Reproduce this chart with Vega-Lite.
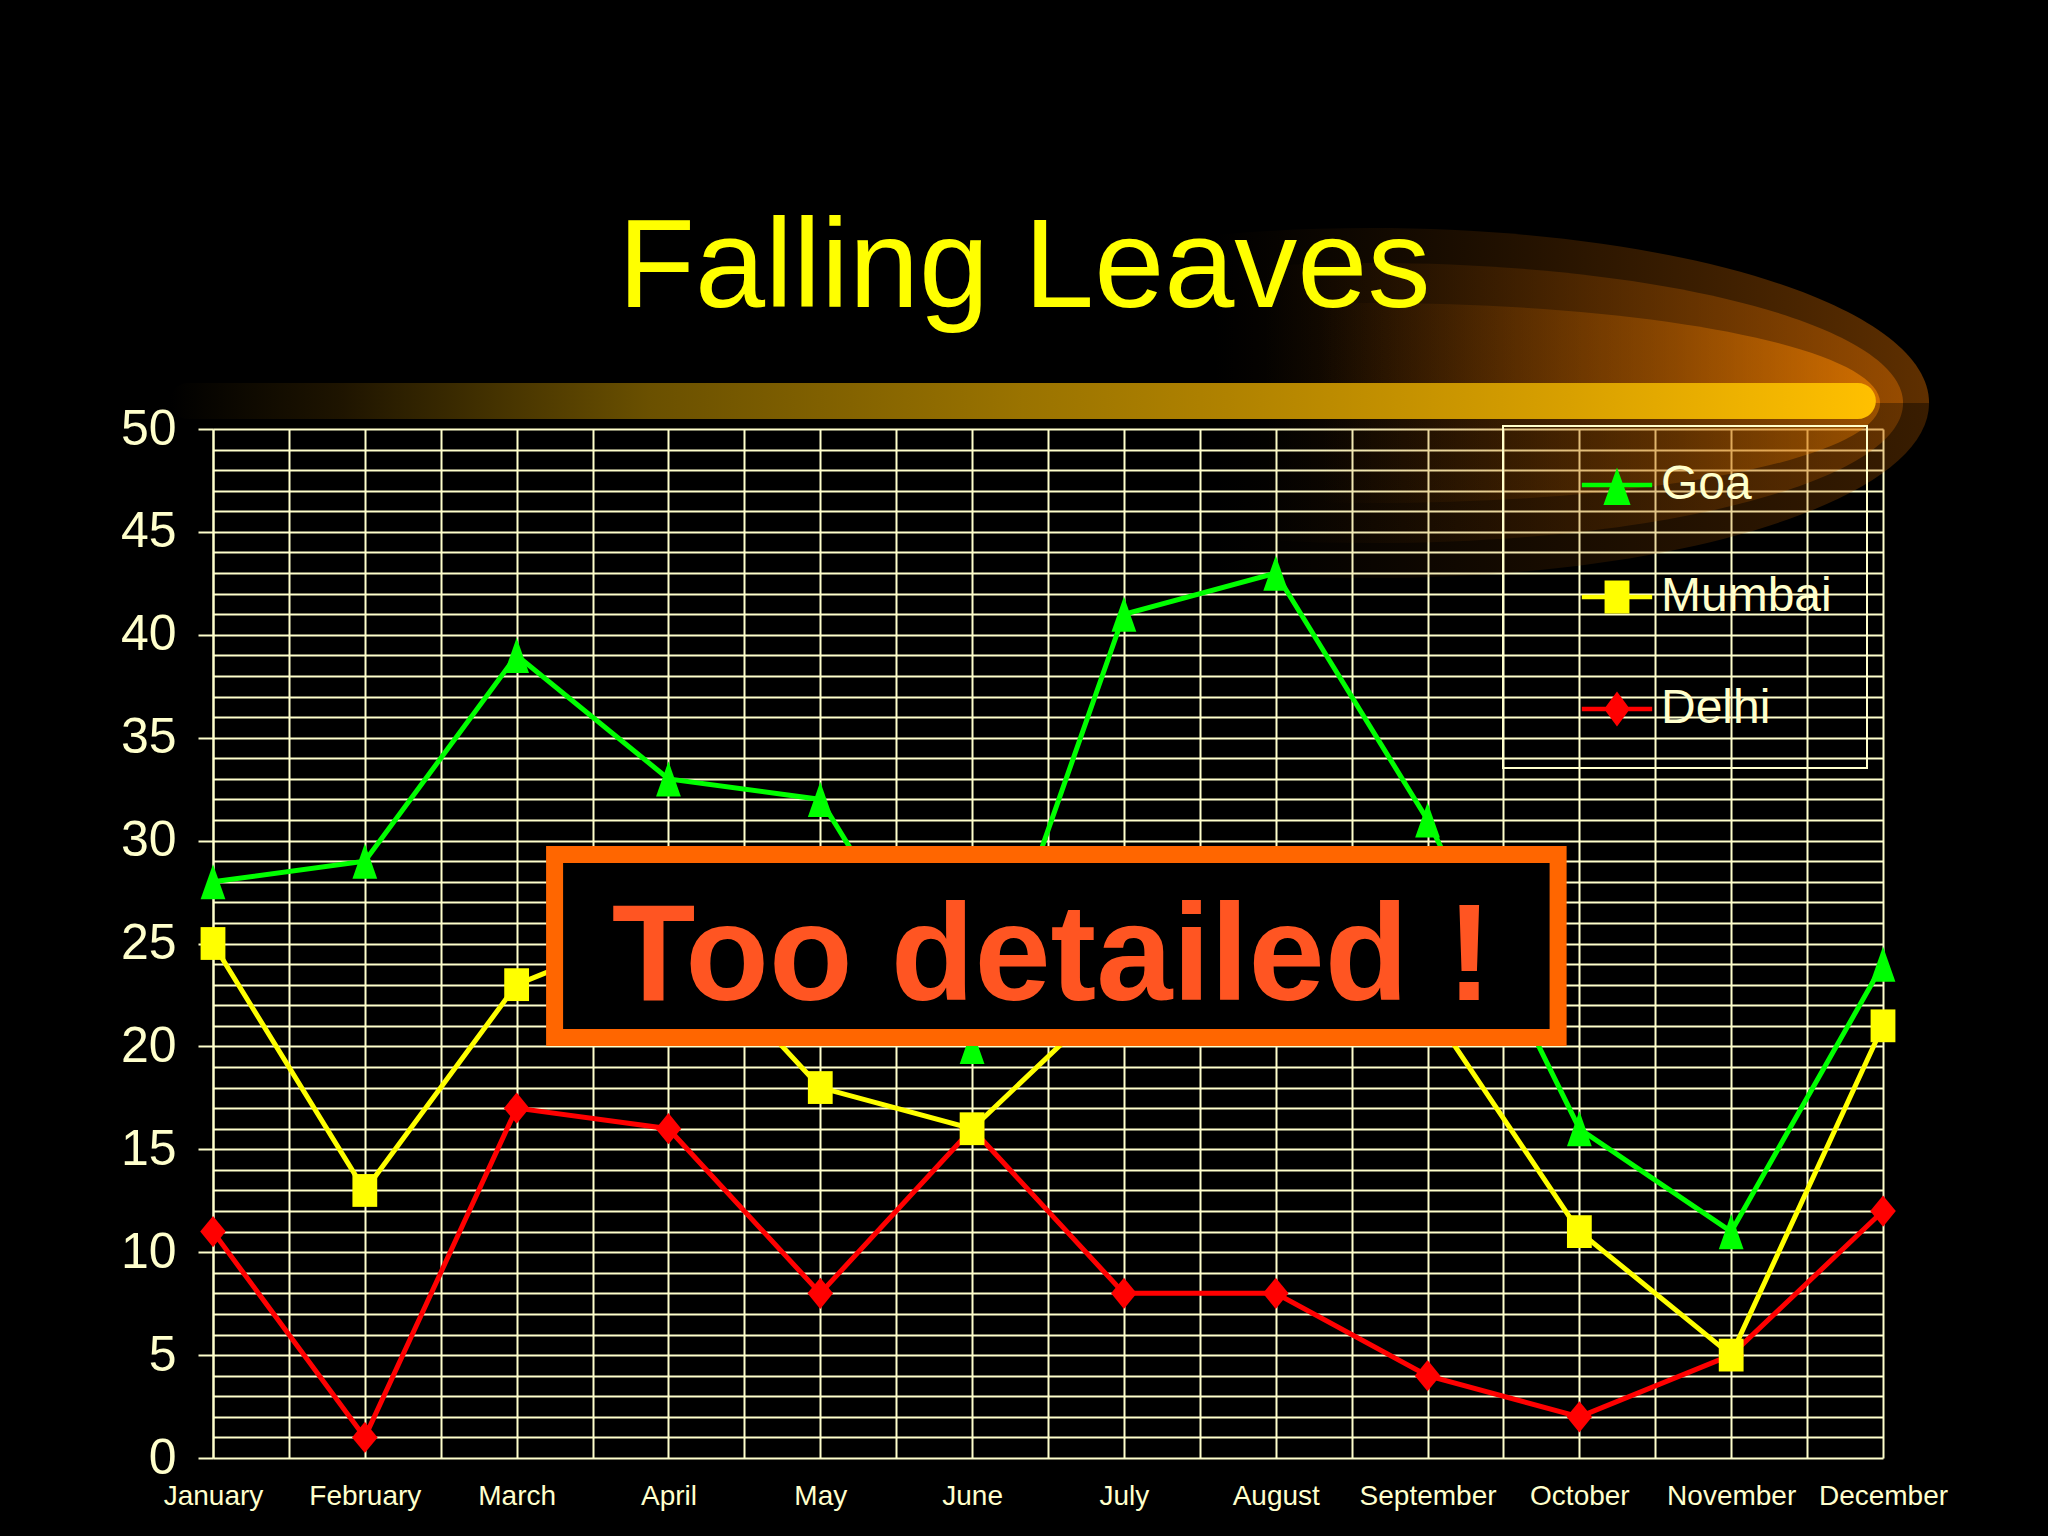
{
  "$schema": "https://vega.github.io/schema/vega-lite/v6.json",
  "width": 1670,
  "height": 1029,
  "autosize": {"type": "none"},
  "padding": {"left": 213, "top": 429, "right": 165, "bottom": 78},
  "background": "#000000",
  "config": {"view": {"stroke": null}, "legend": {"strokeWidth": 2}},
  "resolve": {"scale": {"x": "independent"}, "axis": {"x": "independent"}},
  "layer": [
    {
      "data": {"values": [{"part": "glow"}]},
      "encoding": {
        "x": {"datum": 7.628, "type": "quantitative", "title": null, "scale": {"domain": [0, 11], "nice": false, "zero": false},
          "axis": {"orient": "bottom", "values": [0,0.5,1,1.5,2,2.5,3,3.5,4,4.5,5,5.5,6,6.5,7,7.5,8,8.5,9,9.5,10,10.5,11],
            "grid": true, "gridColor": "#FFFFCC", "gridWidth": 2, "gridOpacity": 1, "labels": false, "ticks": false, "domain": false, "title": null}},
        "y": {"datum": 51.26, "type": "quantitative", "title": null, "scale": {"domain": [0, 50], "nice": false},
          "axis": {"values": [0,1,2,3,4,5,6,7,8,9,10,11,12,13,14,15,16,17,18,19,20,21,22,23,24,25,26,27,28,29,30,31,32,33,34,35,36,37,38,39,40,41,42,43,44,45,46,47,48,49,50],
            "grid": true, "gridColor": "#FFFFCC", "gridWidth": 2, "gridOpacity": 1,
            "domain": true, "domainColor": "#FFFFCC", "domainWidth": 2,
            "tickColor": "#FFFFCC", "tickWidth": 2, "tickSize": 15,
            "tickOpacity": {"condition": {"test": "datum.value % 5 === 0", "value": 1}, "value": 0},
            "labelExpr": "datum.value % 5 === 0 ? datum.label : ''",
            "labelOverlap": false, "labelFlush": false, "labelBound": false,
            "labelFont": "Liberation Sans, Arial, sans-serif", "labelFontSize": 50, "labelColor": "#FFFFCC", "labelPadding": 22, "title": null}}
      },
      "layer": [
        {
          "mark": {"type": "point", "filled": true, "size": 40000, "strokeWidth": 0, "opacity": 1,
            "shape": "M-5.58,0C-5.58,-0.9665,-3.082,-1.75,0,-1.75C3.082,-1.75,5.58,-0.9665,5.58,0Z",
            "fill": {"gradient": "linear", "x1": 0, "y1": 0, "x2": 1, "y2": 0, "stops": [
              {"offset": 0, "color": "rgba(0,0,0,0)"}, {"offset": 0.36, "color": "rgba(120,60,0,0)"},
              {"offset": 0.7, "color": "rgba(150,75,0,0.3)"}, {"offset": 1, "color": "rgba(190,95,0,0.5)"}]}}
        },
        {
          "mark": {"type": "point", "filled": true, "size": 40000, "strokeWidth": 0, "opacity": 1,
            "shape": "M-5.58,0C-5.58,0.9665,-3.082,1.75,0,1.75C3.082,1.75,5.58,0.9665,5.58,0Z",
            "fill": {"gradient": "linear", "x1": 0, "y1": 0, "x2": 1, "y2": 0, "stops": [
              {"offset": 0, "color": "rgba(0,0,0,0)"}, {"offset": 0.36, "color": "rgba(120,60,0,0)"},
              {"offset": 0.7, "color": "rgba(150,75,0,0.18)"}, {"offset": 1, "color": "rgba(190,95,0,0.3)"}]}}
        },
        {
          "mark": {"type": "point", "filled": true, "size": 40000, "strokeWidth": 0, "opacity": 1,
            "shape": "M-5.32,0C-5.32,-0.7732,-2.938,-1.4,0,-1.4C2.938,-1.4,5.32,-0.7732,5.32,0Z",
            "fill": {"gradient": "linear", "x1": 0, "y1": 0, "x2": 1, "y2": 0, "stops": [
              {"offset": 0, "color": "rgba(0,0,0,0)"}, {"offset": 0.4, "color": "rgba(150,75,0,0)"},
              {"offset": 0.75, "color": "rgba(180,90,0,0.3)"}, {"offset": 1, "color": "rgba(210,105,0,0.5)"}]}}
        },
        {
          "mark": {"type": "point", "filled": true, "size": 40000, "strokeWidth": 0, "opacity": 1,
            "shape": "M-5.32,0C-5.32,0.7732,-2.938,1.4,0,1.4C2.938,1.4,5.32,0.7732,5.32,0Z",
            "fill": {"gradient": "linear", "x1": 0, "y1": 0, "x2": 1, "y2": 0, "stops": [
              {"offset": 0, "color": "rgba(0,0,0,0)"}, {"offset": 0.4, "color": "rgba(150,75,0,0)"},
              {"offset": 0.75, "color": "rgba(180,90,0,0.18)"}, {"offset": 1, "color": "rgba(210,105,0,0.3)"}]}}
        },
        {
          "mark": {"type": "point", "filled": true, "size": 40000, "strokeWidth": 0, "opacity": 1,
            "shape": "M-5.09,0C-5.09,-0.5523,-2.811,-1,0,-1C2.811,-1,5.09,-0.5523,5.09,0Z",
            "fill": {"gradient": "linear", "x1": 0, "y1": 0, "x2": 1, "y2": 0, "stops": [
              {"offset": 0, "color": "rgba(0,0,0,0)"}, {"offset": 0.45, "color": "rgba(180,90,0,0)"},
              {"offset": 0.8, "color": "rgba(220,115,0,0.35)"}, {"offset": 1, "color": "rgba(240,130,0,0.65)"}]}}
        },
        {
          "mark": {"type": "point", "filled": true, "size": 40000, "strokeWidth": 0, "opacity": 1,
            "shape": "M-5.09,0C-5.09,0.5523,-2.811,1,0,1C2.811,1,5.09,0.5523,5.09,0Z",
            "fill": {"gradient": "linear", "x1": 0, "y1": 0, "x2": 1, "y2": 0, "stops": [
              {"offset": 0, "color": "rgba(0,0,0,0)"}, {"offset": 0.45, "color": "rgba(180,90,0,0)"},
              {"offset": 0.8, "color": "rgba(220,115,0,0.2)"}, {"offset": 1, "color": "rgba(240,130,0,0.4)"}]}}
        },
        {
          "mark": {"type": "rect", "cornerRadius": 18,
            "fill": {"gradient": "linear", "x1": 0, "y1": 0, "x2": 1, "y2": 0, "stops": [
              {"offset": 0, "color": "#000000"}, {"offset": 0.1, "color": "#1e1400"},
              {"offset": 0.28, "color": "#6a5000"}, {"offset": 0.5, "color": "#9a7300"},
              {"offset": 0.62, "color": "#b08200"}, {"offset": 0.82, "color": "#d8a000"},
              {"offset": 1, "color": "#ffc000"}]}},
          "encoding": {
            "x": {"datum": -0.283, "type": "quantitative", "title": null, "scale": {"domain": [0, 11], "nice": false, "zero": false},
              "axis": {"orient": "bottom", "values": [0,0.5,1,1.5,2,2.5,3,3.5,4,4.5,5,5.5,6,6.5,7,7.5,8,8.5,9,9.5,10,10.5,11],
                "grid": true, "gridColor": "#FFFFCC", "gridWidth": 2, "gridOpacity": 1, "labels": false, "ticks": false, "domain": false, "title": null}},
            "x2": {"datum": 10.953},
            "y": {"datum": 52.24, "type": "quantitative", "title": null, "scale": {"domain": [0, 50], "nice": false},
              "axis": {"values": [0,1,2,3,4,5,6,7,8,9,10,11,12,13,14,15,16,17,18,19,20,21,22,23,24,25,26,27,28,29,30,31,32,33,34,35,36,37,38,39,40,41,42,43,44,45,46,47,48,49,50],
                "grid": true, "gridColor": "#FFFFCC", "gridWidth": 2, "gridOpacity": 1,
                "domain": true, "domainColor": "#FFFFCC", "domainWidth": 2,
                "tickColor": "#FFFFCC", "tickWidth": 2, "tickSize": 15,
                "tickOpacity": {"condition": {"test": "datum.value % 5 === 0", "value": 1}, "value": 0},
                "labelExpr": "datum.value % 5 === 0 ? datum.label : ''",
                "labelOverlap": false, "labelFlush": false, "labelBound": false,
                "labelFont": "Liberation Sans, Arial, sans-serif", "labelFontSize": 50, "labelColor": "#FFFFCC", "labelPadding": 22, "title": null}},
            "y2": {"datum": 50.49}
          }
        }
      ]
    },
    {
      "data": {"values": [
        {"month": "January", "city": "Delhi", "value": 11},
        {"month": "February", "city": "Delhi", "value": 1},
        {"month": "March", "city": "Delhi", "value": 17},
        {"month": "April", "city": "Delhi", "value": 16},
        {"month": "May", "city": "Delhi", "value": 8},
        {"month": "June", "city": "Delhi", "value": 16},
        {"month": "July", "city": "Delhi", "value": 8},
        {"month": "August", "city": "Delhi", "value": 8},
        {"month": "September", "city": "Delhi", "value": 4},
        {"month": "October", "city": "Delhi", "value": 2},
        {"month": "November", "city": "Delhi", "value": 5},
        {"month": "December", "city": "Delhi", "value": 12},
        {"month": "January", "city": "Mumbai", "value": 25},
        {"month": "February", "city": "Mumbai", "value": 13},
        {"month": "March", "city": "Mumbai", "value": 23},
        {"month": "April", "city": "Mumbai", "value": 26},
        {"month": "May", "city": "Mumbai", "value": 18},
        {"month": "June", "city": "Mumbai", "value": 16},
        {"month": "July", "city": "Mumbai", "value": 23},
        {"month": "August", "city": "Mumbai", "value": 25},
        {"month": "September", "city": "Mumbai", "value": 22},
        {"month": "October", "city": "Mumbai", "value": 11},
        {"month": "November", "city": "Mumbai", "value": 5},
        {"month": "December", "city": "Mumbai", "value": 21},
        {"month": "January", "city": "Goa", "value": 28},
        {"month": "February", "city": "Goa", "value": 29},
        {"month": "March", "city": "Goa", "value": 39},
        {"month": "April", "city": "Goa", "value": 33},
        {"month": "May", "city": "Goa", "value": 32},
        {"month": "June", "city": "Goa", "value": 20},
        {"month": "July", "city": "Goa", "value": 41},
        {"month": "August", "city": "Goa", "value": 43},
        {"month": "September", "city": "Goa", "value": 31},
        {"month": "October", "city": "Goa", "value": 16},
        {"month": "November", "city": "Goa", "value": 11},
        {"month": "December", "city": "Goa", "value": 24}
      ]},
      "encoding": {
        "x": {"field": "month", "type": "ordinal", "title": null,
          "scale": {"type": "point", "padding": 0, "domain": ["January","February","March","April","May","June","July","August","September","October","November","December"]},
          "axis": {"orient": "bottom", "grid": false, "ticks": false, "domain": false, "labelAngle": 0, "labelOverlap": false,
            "labelFont": "Liberation Sans, Arial, sans-serif", "labelFontSize": 28, "labelColor": "#FFFFCC", "labelPadding": 24, "title": null}},
        "y": {"field": "value", "type": "quantitative", "title": null, "scale": {"domain": [0, 50], "nice": false},
          "axis": {"values": [0,1,2,3,4,5,6,7,8,9,10,11,12,13,14,15,16,17,18,19,20,21,22,23,24,25,26,27,28,29,30,31,32,33,34,35,36,37,38,39,40,41,42,43,44,45,46,47,48,49,50],
            "grid": true, "gridColor": "#FFFFCC", "gridWidth": 2, "gridOpacity": 1,
            "domain": true, "domainColor": "#FFFFCC", "domainWidth": 2,
            "tickColor": "#FFFFCC", "tickWidth": 2, "tickSize": 15,
            "tickOpacity": {"condition": {"test": "datum.value % 5 === 0", "value": 1}, "value": 0},
            "labelExpr": "datum.value % 5 === 0 ? datum.label : ''",
            "labelOverlap": false, "labelFlush": false, "labelBound": false,
            "labelFont": "Liberation Sans, Arial, sans-serif", "labelFontSize": 50, "labelColor": "#FFFFCC", "labelPadding": 22, "title": null}}
      },
      "layer": [
        {
          "mark": {"type": "line", "strokeWidth": 5},
          "encoding": {
            "color": {"field": "city", "type": "nominal",
              "scale": {"domain": ["Goa", "Mumbai", "Delhi"], "range": ["#00FF00", "#FFFF00", "#FF0000"]}}
          }
        },
        {
          "mark": {"type": "point", "filled": true, "size": 1600, "opacity": 1, "strokeWidth": 0},
          "encoding": {
            "color": {"field": "city", "type": "nominal",
              "scale": {"domain": ["Goa", "Mumbai", "Delhi"], "range": ["#00FF00", "#FFFF00", "#FF0000"]},
              "legend": {"title": null, "orient": "none", "legendX": 1290, "legendY": -3, "direction": "vertical", "zindex": 1,
                "padding": 35, "rowPadding": 64, "symbolSize": 2200, "symbolOffset": 55, "symbolStrokeWidth": 0, "symbolOpacity": 1,
                "labelOffset": 20, "labelLimit": 0, "labelFont": "Liberation Sans, Arial, sans-serif", "labelFontSize": 48,
                "labelColor": "#FFFFCC", "strokeColor": "#FFFFCC",
                "encode": {"symbols": {"update": {
                  "shape": {"signal": "datum.value === 'Goa' ? 'M-1.5,-0.1H1.5V0.1H-1.5ZM0,-0.75L0.58,0.85L-0.58,0.85Z' : datum.value === 'Mumbai' ? 'M-1.5,-0.1H1.5V0.1H-1.5ZM-0.53,-0.7H0.53V0.7H-0.53Z' : 'M-1.5,-0.1H1.5V0.1H-1.5ZM0,-0.75L0.55,0L0,0.75L-0.55,0Z'"},
                  "opacity": {"value": 1}}}}}},
            "shape": {"field": "city", "type": "nominal", "legend": null,
              "scale": {"domain": ["Delhi", "Mumbai", "Goa"], "range": ["M0,-0.78L0.64,0L0,0.78L-0.64,0Z", "M-0.62,-0.82H0.62V0.82H-0.62Z", "M0,-0.88L0.62,0.88L-0.62,0.88Z"]}}
          }
        }
      ]
    },
    {
      "data": {"values": [{"note": "Too detailed !"}]},
      "encoding": {
        "x": {"datum": 5.526, "type": "quantitative", "title": null, "scale": {"domain": [0, 11], "nice": false, "zero": false}, "axis": null},
        "y": {"datum": 22.25, "type": "quantitative", "title": null, "scale": {"domain": [0, 50], "nice": false},
          "axis": {"values": [0,1,2,3,4,5,6,7,8,9,10,11,12,13,14,15,16,17,18,19,20,21,22,23,24,25,26,27,28,29,30,31,32,33,34,35,36,37,38,39,40,41,42,43,44,45,46,47,48,49,50],
            "grid": true, "gridColor": "#FFFFCC", "gridWidth": 2, "gridOpacity": 1,
            "domain": true, "domainColor": "#FFFFCC", "domainWidth": 2,
            "tickColor": "#FFFFCC", "tickWidth": 2, "tickSize": 15,
            "tickOpacity": {"condition": {"test": "datum.value % 5 === 0", "value": 1}, "value": 0},
            "labelExpr": "datum.value % 5 === 0 ? datum.label : ''",
            "labelOverlap": false, "labelFlush": false, "labelBound": false,
            "labelFont": "Liberation Sans, Arial, sans-serif", "labelFontSize": 50, "labelColor": "#FFFFCC", "labelPadding": 22, "title": null}}
      },
      "layer": [
        {
          "mark": {"type": "rect", "fill": "#000000", "stroke": "#FF6600", "strokeWidth": 17},
          "encoding": {
            "x": {"datum": 2.25, "type": "quantitative", "title": null, "scale": {"domain": [0, 11], "nice": false, "zero": false}, "axis": null},
            "x2": {"datum": 8.86},
            "y": {"datum": 29.33, "type": "quantitative", "title": null, "scale": {"domain": [0, 50], "nice": false},
              "axis": {"values": [0,1,2,3,4,5,6,7,8,9,10,11,12,13,14,15,16,17,18,19,20,21,22,23,24,25,26,27,28,29,30,31,32,33,34,35,36,37,38,39,40,41,42,43,44,45,46,47,48,49,50],
                "grid": true, "gridColor": "#FFFFCC", "gridWidth": 2, "gridOpacity": 1,
                "domain": true, "domainColor": "#FFFFCC", "domainWidth": 2,
                "tickColor": "#FFFFCC", "tickWidth": 2, "tickSize": 15,
                "tickOpacity": {"condition": {"test": "datum.value % 5 === 0", "value": 1}, "value": 0},
                "labelExpr": "datum.value % 5 === 0 ? datum.label : ''",
                "labelOverlap": false, "labelFlush": false, "labelBound": false,
                "labelFont": "Liberation Sans, Arial, sans-serif", "labelFontSize": 50, "labelColor": "#FFFFCC", "labelPadding": 22, "title": null}},
            "y2": {"datum": 20.43}
          }
        },
        {
          "mark": {"type": "text", "font": "Liberation Sans, Arial, sans-serif", "fontWeight": "bold", "fontSize": 137, "color": "#FF5522", "align": "center", "baseline": "alphabetic"},
          "encoding": {"text": {"field": "note"}}
        }
      ]
    },
    {
      "data": {"values": [{"heading": "Falling Leaves"}]},
      "mark": {"type": "text", "font": "Liberation Sans, Arial, sans-serif", "fontSize": 126, "color": "#FFFF00", "align": "center", "baseline": "alphabetic"},
      "encoding": {
        "x": {"datum": 5.343, "type": "quantitative", "title": null, "scale": {"domain": [0, 11], "nice": false, "zero": false}, "axis": null},
        "y": {"datum": 55.93, "type": "quantitative", "title": null, "scale": {"domain": [0, 50], "nice": false},
          "axis": {"values": [0,1,2,3,4,5,6,7,8,9,10,11,12,13,14,15,16,17,18,19,20,21,22,23,24,25,26,27,28,29,30,31,32,33,34,35,36,37,38,39,40,41,42,43,44,45,46,47,48,49,50],
            "grid": true, "gridColor": "#FFFFCC", "gridWidth": 2, "gridOpacity": 1,
            "domain": true, "domainColor": "#FFFFCC", "domainWidth": 2,
            "tickColor": "#FFFFCC", "tickWidth": 2, "tickSize": 15,
            "tickOpacity": {"condition": {"test": "datum.value % 5 === 0", "value": 1}, "value": 0},
            "labelExpr": "datum.value % 5 === 0 ? datum.label : ''",
            "labelOverlap": false, "labelFlush": false, "labelBound": false,
            "labelFont": "Liberation Sans, Arial, sans-serif", "labelFontSize": 50, "labelColor": "#FFFFCC", "labelPadding": 22, "title": null}},
        "text": {"field": "heading"}
      }
    }
  ]
}
